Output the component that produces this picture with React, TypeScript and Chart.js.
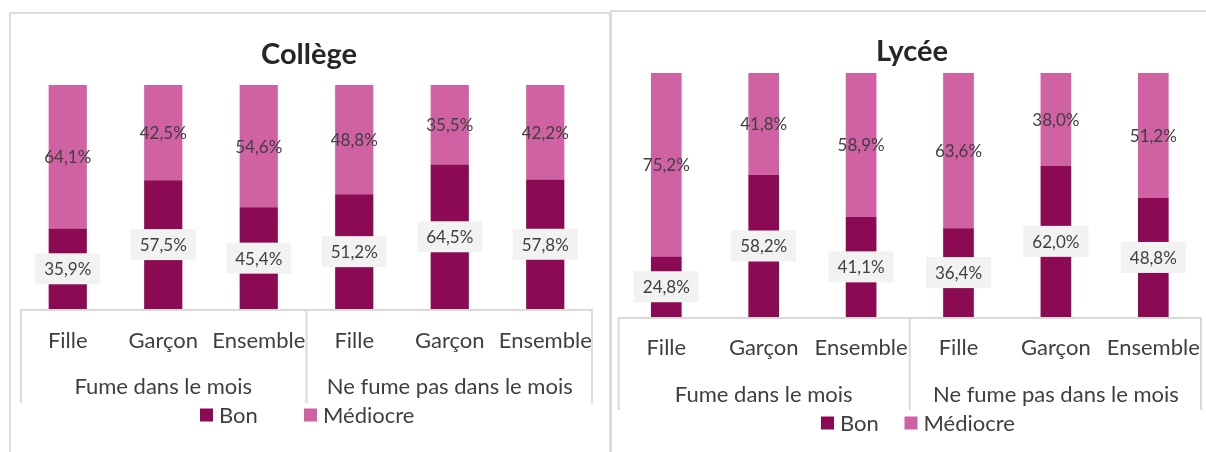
import React, { useEffect, useRef } from 'react';
import { Chart, registerables } from 'chart.js';

Chart.register(...registerables);

const categories = ['Fille', 'Garçon', 'Ensemble', 'Fille', 'Garçon', 'Ensemble'];
const groups = ['Fume dans le mois', 'Ne fume pas dans le mois'];
const seriesNames = ['Bon', 'Médiocre'];
const seriesColors = ['#8C0A53', '#D062A3'];

const collegeBon = [35.9, 57.5, 45.4, 51.2, 64.5, 57.8];
const collegeMediocre = [64.1, 42.5, 54.6, 48.8, 35.5, 42.2];
const lyceeBon = [24.8, 58.2, 41.1, 36.4, 62.0, 48.8];
const lyceeMediocre = [75.2, 41.8, 58.9, 63.6, 38.0, 51.2];

const FONT = 'Lato, "Open Sans", sans-serif';
const TEXT = '#3f3f3f';

const fmt = (v: number) => v.toFixed(1).replace('.', ',') + '%';

const decorPlugin = {
  id: 'decor',
  afterDatasetsDraw(chart: any, _args: any, opts: any) {
    const ctx = chart.ctx as CanvasRenderingContext2D;
    const xs = chart.scales.x;
    const area = chart.chartArea;
    ctx.save();
    ctx.textAlign = 'center';
    ctx.textBaseline = 'middle';

    // data labels
    ctx.font = `17px ${FONT}`;
    chart.data.datasets.forEach((ds: any, di: number) => {
      const meta = chart.getDatasetMeta(di);
      meta.data.forEach((el: any, i: number) => {
        const txt = fmt(ds.data[i]);
        const cx = el.x;
        const cy = (el.y + el.base) / 2;
        if (di === 0) {
          const w = ctx.measureText(txt).width + 18;
          ctx.fillStyle = '#f2f2f2';
          ctx.fillRect(cx - w / 2, cy - 15.5, w, 31);
        }
        ctx.fillStyle = TEXT;
        ctx.fillText(txt, cx, cy + 1);
      });
    });

    // category axis box
    const left = area.left;
    const right = area.right;
    const mid = (xs.getPixelForValue(2) + xs.getPixelForValue(3)) / 2;
    ctx.strokeStyle = '#d9d9d9';
    ctx.lineWidth = 2;
    ctx.beginPath();
    ctx.moveTo(left, area.bottom + 1);
    ctx.lineTo(right, area.bottom + 1);
    [left + 1, mid, right - 1].forEach((x) => {
      ctx.moveTo(x, area.bottom);
      ctx.lineTo(x, opts.boxBottom);
    });
    ctx.stroke();

    ctx.font = `22px ${FONT}`;
    ctx.fillStyle = TEXT;
    chart.data.labels.forEach((l: string, i: number) => {
      ctx.fillText(l, xs.getPixelForValue(i), opts.catY);
    });
    groups.forEach((g, gi) => {
      const a = gi === 0 ? left : mid;
      const b = gi === 0 ? mid : right;
      ctx.fillText(g, (a + b) / 2, opts.groupY);
    });

    // title
    ctx.font = `bold 29px ${FONT}`;
    ctx.fillStyle = '#262626';
    ctx.fillText(opts.title, opts.titleX, opts.titleY);

    // legend
    ctx.font = `22px ${FONT}`;
    ctx.textAlign = 'left';
    chart.data.datasets.forEach((ds: any, di: number) => {
      const x = opts.legendX[di];
      ctx.fillStyle = ds.backgroundColor;
      ctx.fillRect(x, opts.legendY - 6.5, 13, 13);
      ctx.fillStyle = TEXT;
      ctx.fillText(ds.label, x + 19, opts.legendY + 1);
    });
    ctx.restore();
  },
};

type Props = {
  left: number;
  width: number;
  bon: number[];
  mediocre: number[];
  padding: { left: number; right: number; top: number; bottom: number };
  barPct: number;
  decor: any;
};

function StackChart({ left, width, bon, mediocre, padding, barPct, decor }: Props) {
  const ref = useRef<HTMLCanvasElement>(null);
  useEffect(() => {
    if (!ref.current) return;
    const chart = new Chart(ref.current, {
      type: 'bar',
      data: {
        labels: categories,
        datasets: [
          {
            label: seriesNames[0],
            data: bon,
            backgroundColor: seriesColors[0],
            barPercentage: barPct,
            categoryPercentage: 1,
          },
          {
            label: seriesNames[1],
            data: mediocre,
            backgroundColor: seriesColors[1],
            barPercentage: barPct,
            categoryPercentage: 1,
          },
        ],
      },
      options: {
        responsive: false,
        animation: false,
        layout: { padding },
        scales: {
          x: { stacked: true, display: false },
          y: { stacked: true, display: false, min: 0, max: 100 },
        },
        plugins: {
          legend: { display: false },
          tooltip: { enabled: false },
          decor,
        } as any,
      },
      plugins: [decorPlugin as any],
    });
    return () => chart.destroy();
  }, []);
  return (
    <canvas
      ref={ref}
      width={width}
      height={452}
      style={{ position: 'absolute', left, top: 0, width, height: 452 }}
    />
  );
}

export default function App() {
  return (
    <div
      style={{
        position: 'absolute',
        left: 0,
        top: 0,
        width: 1206,
        height: 452,
        overflow: 'hidden',
        background: '#fff',
      }}
    >
      <div
        style={{
          position: 'absolute',
          left: 9,
          top: 12,
          width: 602,
          height: 500,
          border: '2px solid #dcdcdc',
          boxSizing: 'border-box',
        }}
      />
      <div
        style={{
          position: 'absolute',
          left: 610,
          top: 10,
          width: 700,
          height: 500,
          border: '2px solid #dcdcdc',
          boxSizing: 'border-box',
        }}
      />
      <StackChart
        left={0}
        width={610}
        bon={collegeBon}
        mediocre={collegeMediocre}
        padding={{ left: 20, right: 17, top: 85, bottom: 143 }}
        barPct={0.4}
        decor={{
          title: 'Collège',
          titleX: 309,
          titleY: 55,
          catY: 341,
          groupY: 387,
          boxBottom: 403,
          legendY: 415,
          legendX: [200, 304],
        }}
      />
      <StackChart
        left={606}
        width={600}
        bon={lyceeBon}
        mediocre={lyceeMediocre}
        padding={{ left: 11.6, right: 4, top: 73, bottom: 135 }}
        barPct={0.315}
        decor={{
          title: 'Lycée',
          titleX: 306,
          titleY: 52,
          catY: 348,
          groupY: 395,
          boxBottom: 410,
          legendY: 423,
          legendX: [215, 298.5],
        }}
      />
    </div>
  );
}
